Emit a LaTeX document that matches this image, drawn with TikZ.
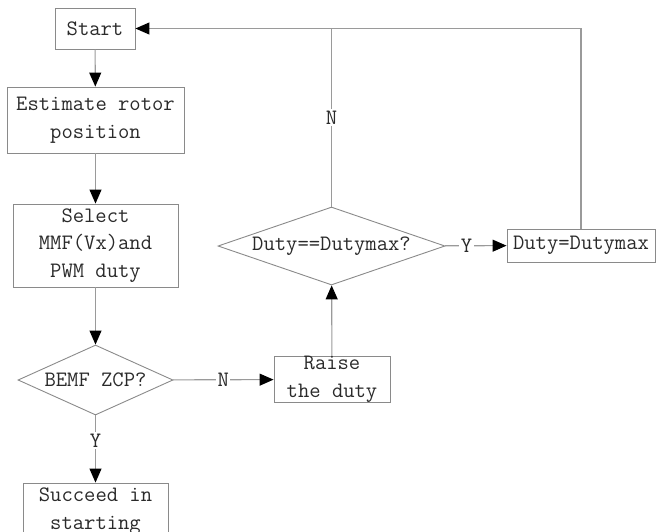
\documentclass[tikz,border=0pt]{standalone}
\usetikzlibrary{arrows.meta,shapes.geometric}
\definecolor{linegray}{HTML}{9A9A9A}
\definecolor{boxgray}{HTML}{8A8A8A}
\definecolor{txt}{HTML}{2A2A2A}
\begin{document}
\begin{tikzpicture}[x=1pt,y=-1pt,
  every node/.style={font=\ttfamily\fontsize{22}{27.5}\selectfont, text=txt},
  box/.style={draw=boxgray, line width=0.9pt, rectangle, align=center, inner sep=0pt},
  dia/.style={draw=boxgray, line width=0.9pt, diamond, inner sep=0pt},
  conn/.style={draw=linegray, line width=1.1pt},
  arr/.style={conn, -{Triangle[length=14pt,width=12pt,color=black]}},
  lab/.style={fill=white, inner sep=1.5pt}]
\useasboundingbox (0,0) rectangle (656,531);

\node[box, minimum width=80pt, minimum height=41pt] (start) at (95,28.5) {Start};
\node[box, minimum width=177pt, minimum height=66pt] (est) at (95.5,120) {Estimate rotor\\position};
\node[box, minimum width=165pt, minimum height=83pt] (sel) at (95.5,245.5) {Select\\MMF(Vx)and\\PWM duty};
\node[dia, aspect=2.214, minimum width=155pt, minimum height=70pt] (bemf) at (95.5,380) {BEMF ZCP?};
\node[box, minimum width=145pt, minimum height=56pt] (succ) at (95.5,511) {Succeed in\\starting};
\node[box, minimum width=116pt, minimum height=45pt] (raise) at (332,379.5) {Raise\\the duty};
\node[dia, aspect=2.91, minimum width=227pt, minimum height=78pt] (duty) at (331.5,246) {Duty==Dutymax?};
\node[box, minimum width=148pt, minimum height=33pt] (dmax) at (581,245.5) {Duty=Dutymax};

\draw[arr] (start) -- (est);
\draw[arr] (est) -- (sel);
\draw[arr] (sel) -- (bemf);
\draw[arr] (bemf) -- node[lab, pos=0.37] (ly1) {Y} (succ);
\draw[arr] (bemf) -- node[lab, pos=0.5] (ln1) {N} (raise);
\draw[arr] (raise) -- (duty);
\draw[arr] (duty) -- node[lab, pos=0.35] (ly2) {Y} (dmax);
\draw[arr] (duty.north) |- node[lab, pos=0.25] (ln2) {N} (start.east);
\draw[conn] (dmax.north) |- (duty.north |- start.east);
\end{tikzpicture}
\end{document}
